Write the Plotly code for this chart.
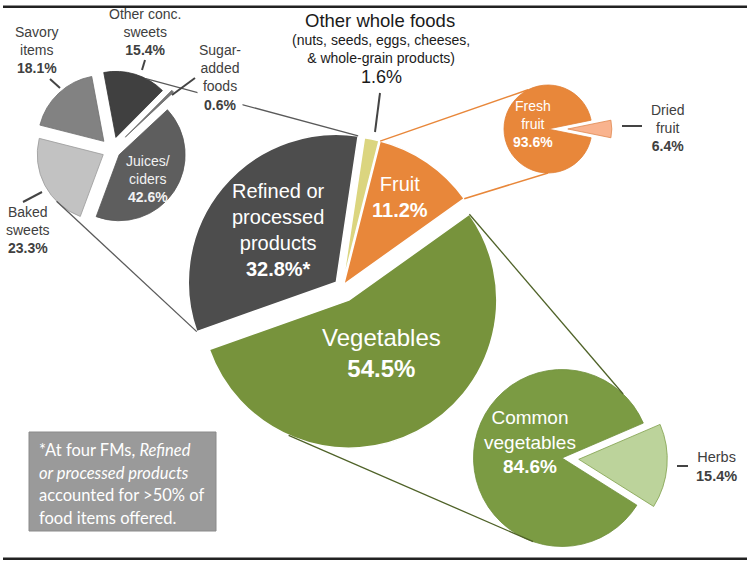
import math
import plotly.graph_objects as go

W, H = 750, 564

# ---------------- data ----------------
main_labels = ["Other whole foods", "Fruit", "Vegetables", "Refined or processed products"]
main_values = [1.6, 11.2, 54.5, 32.8]

refined_labels = ["Juices/ciders", "Baked sweets", "Savory items", "Other conc. sweets", "Sugar-added foods"]
refined_values = [42.6, 23.3, 18.1, 15.4, 0.6]

fruit_labels = ["Fresh fruit", "Dried fruit"]
fruit_values = [93.6, 6.4]

veg_labels = ["Common vegetables", "Herbs"]
veg_values = [84.6, 15.4]

other_note = "(nuts, seeds, eggs, cheeses,<br>& whole-grain products)"
footnote_lines = ["*At four FMs, <i>Refined</i>", "<i>or processed products</i>",
                  "accounted for >50% of", "food items offered."]

FONT = "Liberation Sans, Arial, sans-serif"
NOTE_FONT = "Lato, Open Sans, sans-serif"
LBL = "#404040"


def pct(v):
    return f"{v:.1f}%"


class PieGeom:
    """Pixel geometry of a plotly pie (clockwise, rotation from 12 o'clock)."""

    def __init__(self, cx, cy, r, rotation, values, pulls):
        self.cx, self.cy, self.r, self.rotation = cx, cy, r, rotation
        self.values, self.pulls = values, pulls
        self.slices = []
        total = sum(values)
        a = rotation
        for v, p in zip(values, pulls):
            a1 = a + 360.0 * v / total
            mid = math.radians((a + a1) / 2)
            ox = cx + p * r * math.sin(mid)
            oy = cy - p * r * math.cos(mid)
            self.slices.append(dict(a0=a, a1=a1, ox=ox, oy=oy))
            a = a1

    def point(self, i, ang):
        s = self.slices[i]
        t = math.radians(ang)
        return (s["ox"] + self.r * math.sin(t), s["oy"] - self.r * math.cos(t))

    def corner(self, i, which):
        s = self.slices[i]
        return self.point(i, s[which])

    def domain(self):
        h = self.r * (1 + max(self.pulls))
        return dict(x=[max(0, (self.cx - h) / W), min(1, (self.cx + h) / W)],
                    y=[max(0, 1 - (self.cy + h) / H), min(1, 1 - (self.cy - h) / H)])


def P(x, y):
    return x / W, 1 - y / H


main_g = PieGeom(342, 287, 148, 8.5, main_values, [0.02, 0.02, 0.10, 0.05])
ref_g = PieGeom(112, 150, 66, 47, refined_values, [0.13, 0.15, 0.18, 0.20, 0.28])
fruit_g = PieGeom(548, 129, 44, 101.5, fruit_values, [0.0, 0.45])
veg_g = PieGeom(562, 458, 88.5, 122.2, veg_values, [0.0, 0.19])

fig = go.Figure()


def add_pie(g, labels, values, colors, line_colors, line_width):
    fig.add_trace(go.Pie(
        labels=labels, values=values, sort=False, direction="clockwise",
        rotation=g.rotation, pull=g.pulls, domain=g.domain(),
        marker=dict(colors=colors, line=dict(color=line_colors, width=line_width)),
        textinfo="none", hoverinfo="label+percent", showlegend=False,
    ))


add_pie(main_g, main_labels, main_values,
        ["#dbd57f", "#e8873a", "#77933c", "#4d4d4d"], "#ffffff", 1.5)
add_pie(ref_g, refined_labels, refined_values,
        ["#5e5e5e", "#c2c2c2", "#828282", "#404040", "#777777"],
        ["#555555", "#9a9a9a", "#6e6e6e", "#363636", "#666666"], 0.8)
add_pie(fruit_g, fruit_labels, fruit_values,
        ["#e8873a", "#f9b38e"], ["#e07f35", "#e0884f"], 0.8)
add_pie(veg_g, veg_labels, veg_values,
        ["#7b9b43", "#bcd39b"], ["#6f8f3a", "#7f9f4a"], 0.8)

shapes = []


def line(p0, p1, color, width):
    x0, y0 = P(*p0)
    x1, y1 = P(*p1)
    shapes.append(dict(type="line", xref="paper", yref="paper", x0=x0, y0=y0, x1=x1, y1=y1,
                       line=dict(color=color, width=width)))


def rect(x0, y0, x1, y1, fill, edge, width):
    a0, b0 = P(x0, y1)
    a1, b1 = P(x1, y0)
    shapes.append(dict(type="rect", xref="paper", yref="paper", x0=a0, y0=b0, x1=a1, y1=b1,
                       fillcolor=fill, line=dict(color=edge, width=width), layer="above"))


# indices in main pie
I_OTHER, I_FRUIT, I_VEG, I_REF = 0, 1, 2, 3

# connectors: refined -> breakdown pie
line(ref_g.point(3, 27), main_g.corner(I_REF, "a1"), "#5a5a5a", 1.3)
line(ref_g.point(1, 225), main_g.corner(I_REF, "a0"), "#5a5a5a", 1.3)
# fruit -> breakdown pie
line(main_g.corner(I_FRUIT, "a0"), fruit_g.point(0, 333), "#e8873a", 1.5)
line(main_g.corner(I_FRUIT, "a1"), fruit_g.point(0, 180), "#e8873a", 1.5)
# vegetables -> breakdown pie
line(main_g.corner(I_VEG, "a0"), veg_g.point(0, 43.7), "#4f6228", 1.3)
line(main_g.point(I_VEG, 204), veg_g.point(0, 199), "#4f6228", 1.3)

# leader lines
LEAD = "#444444"
line((50, 79), (60, 88), LEAD, 2)
line((145, 60), (142, 70), LEAD, 2)
line((23, 202), (42, 192), LEAD, 2)
line((172, 95), (195, 78), LEAD, 2)
line((380, 93), (375, 132), LEAD, 2)
line((622, 126), (642, 126), LEAD, 2)
line((677, 466), (688, 466), LEAD, 2)

# footnote box
rect(29, 432, 216, 531, "#9a9a9a", "#8a8a8a", 1)

# rules (top and bottom)
rect(3, 5.5, 747, 8, "#222222", "#222222", 0)
rect(3, 557.5, 747, 560, "#222222", "#222222", 0)

annotations = []


def label(x, y, text, size, color, xanchor="center", family=FONT, bg=None):
    ax, ay = P(x, y)
    d = dict(x=ax, y=ay, xref="paper", yref="paper", text=text, showarrow=False,
             font=dict(size=size, color=color, family=family), xanchor=xanchor,
             yanchor="middle", align="left" if xanchor == "left" else "center")
    if bg:
        d["bgcolor"] = bg
    annotations.append(d)


# refined breakdown labels
label(37, 50, f"Savory<br>items<br><b>{pct(refined_values[2])}</b>", 14, LBL)
label(145, 32.5, f"Other conc.<br>sweets<br><b>{pct(refined_values[3])}</b>", 14, LBL)
label(220, 77, f"Sugar-<br>added<br>foods<br><b>{pct(refined_values[4])}</b>", 14, LBL, bg="#ffffff")
label(28, 230.5, f"Baked<br>sweets<br><b>{pct(refined_values[1])}</b>", 14, LBL)
label(148, 179, f"Juices/<br>ciders<br><b>{pct(refined_values[0])}</b>", 14, "#f2f2f2")

# main labels
label(380, 20, main_labels[0], 18.5, "#1a1a1a")
label(381, 48.5, other_note, 14, "#1a1a1a")
label(381, 77, pct(main_values[0]), 18, "#1a1a1a")
label(278, 230, f"Refined or<br>processed<br>products<br><b>{pct(main_values[3])}*</b>", 20, "#ffffff")
label(400, 197, f"{main_labels[1]}<br><b>{pct(main_values[1])}</b>", 20, "#ffffff")
label(381, 352.5, f"{main_labels[2]}<br><b>{pct(main_values[2])}</b>", 24, "#ffffff")

# fruit breakdown
label(533, 124, f"Fresh<br>fruit<br><b>{pct(fruit_values[0])}</b>", 14, "#ffffff")
label(667, 128, f"Dried<br>fruit<br><b>{pct(fruit_values[1])}</b>", 14, LBL)

# vegetable breakdown
label(530, 442, f"Common<br>vegetables<br><b>{pct(veg_values[0])}</b>", 19, "#ffffff")
label(716, 466, f"Herbs<br><b>{pct(veg_values[1])}</b>", 14.5, LBL)

# footnote
for i, t in enumerate(footnote_lines):
    label(37, 450 + i * 22.5, t, 16.5, "#ffffff", xanchor="left", family=NOTE_FONT)

fig.update_layout(
    width=W, height=H, autosize=False,
    margin=dict(l=0, r=0, t=0, b=0, pad=0),
    paper_bgcolor="#ffffff", plot_bgcolor="#ffffff",
    shapes=shapes, annotations=annotations,
    font=dict(family=FONT),
)

fig.write_html("out.html", config={"displayModeBar": False},
               post_script="document.body.style.margin='0px';document.body.style.overflow='hidden';")
